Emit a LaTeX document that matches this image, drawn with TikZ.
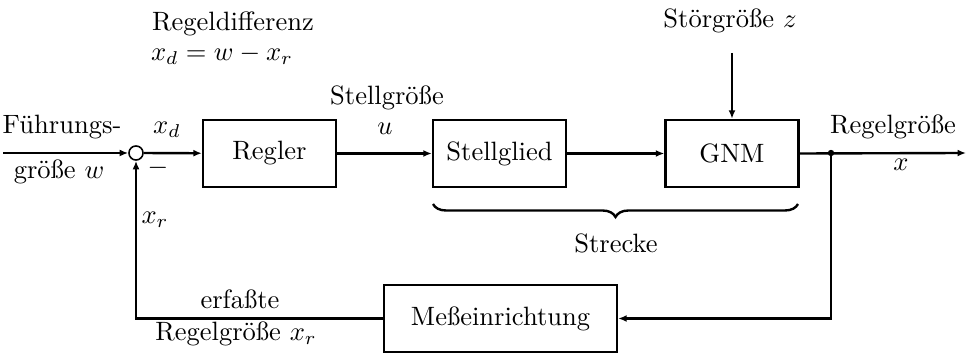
\documentclass[tikz,border=0pt]{standalone}
\usetikzlibrary{arrows.meta,decorations.pathreplacing}
\begin{document}
\begin{tikzpicture}[x=0.377pt,y=-0.377pt,
  every path/.style={line width=0.9pt},
  block/.style={draw,line width=0.9pt,minimum width=50.1pt,minimum height=25.3pt,inner sep=0pt},
  sumnode/.style={draw,circle,line width=0.6pt,minimum size=5.3pt,inner sep=0pt},
  flow/.style={-{Latex[length=3.2pt,width=2.6pt]}},
  lbl/.style={inner sep=0pt}]
\useasboundingbox (0,0) rectangle (966,353);
\node[sumnode] (sum) at (136,153) {};
\node[block] (regler) at (269.5,153.5) {Regler};
\node[block] (stell) at (499.5,153.5) {Stellglied};
\node[block] (gnm) at (732,153.5) {GNM};
\node[block,minimum width=87.8pt] (mess) at (500.5,318.5) {Meßeinrichtung};
\coordinate (in) at (3,153);
\coordinate (out) at (966,153);
\coordinate (dot) at (831,153);
\coordinate (zin) at (732,53);
\coordinate (c1) at (831,318.5);
\coordinate (c2) at (136,318.5);
\fill (dot) circle (1.2pt);
\draw[flow] (in) -- (sum);
\draw[flow] (sum) -- (regler);
\draw[flow] (regler) -- (stell);
\draw[flow] (stell) -- (gnm);
\draw[flow] (gnm.east) -- (out);
\draw[flow] (zin) -- (gnm);
\draw[flow] (dot) -- (c1) -- (mess);
\draw[flow] (mess) -- (c2) -- (sum);
\draw[decorate,decoration={brace,mirror,amplitude=4.9pt}] (433,204) -- (798,204);
\node[lbl] (t1) at (62,127) {Führungs-};
\node[lbl] (t2) at (59,172) {größe $w$};
\node[lbl] (t3) at (167,130) {$x_d$};
\node[lbl] (t4) at (158,168) {$-$};
\node[lbl] (t5) at (155,220) {$x_r$};
\node[lbl] (t6) at (233,24) {Regeldifferenz};
\node[lbl] (t7) at (222,55) {$x_d = w - x_r$};
\node[lbl] (t8) at (387,98) {Stellgröße};
\node[lbl] (t9) at (385,129) {$u$};
\node[lbl] (t10) at (730,21) {Störgröße $z$};
\node[lbl] (t11) at (893,127) {Regelgröße};
\node[lbl] (t12) at (901,165) {$x$};
\node[lbl] (t13) at (616,243) {Strecke};
\node[lbl] (t14) at (240,299) {erfaßte};
\node[lbl] (t15) at (236,334) {Regelgröße $x_r$};
\end{tikzpicture}
\end{document}
